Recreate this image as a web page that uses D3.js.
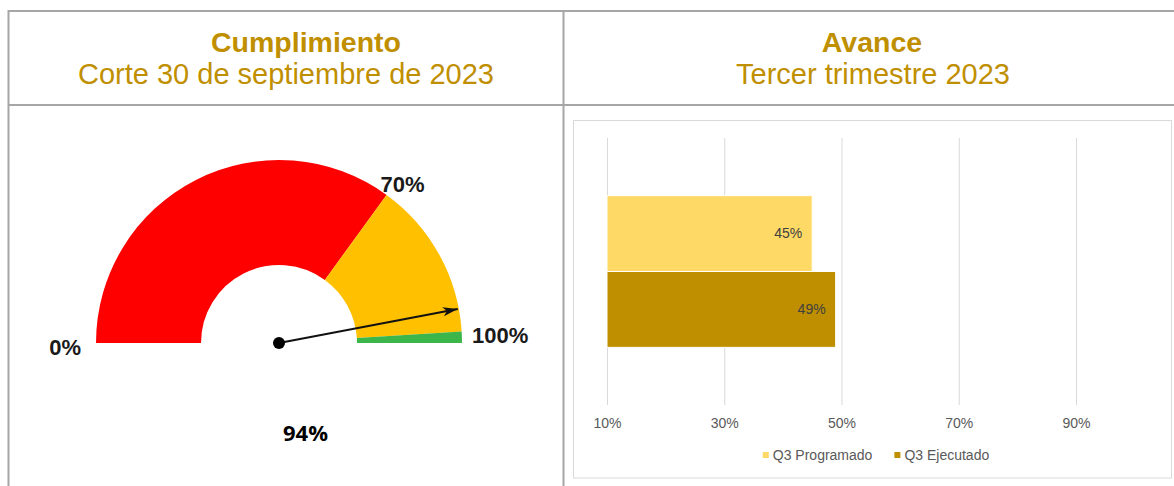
<!DOCTYPE html>
<html>
<head>
<meta charset="utf-8">
<script src="https://cdn.jsdelivr.net/npm/d3@7"></script>
<style>
body { margin: 0; background: #fff; }
text { font-family: "Liberation Sans", Arial, sans-serif; }
</style>
</head>
<body>
<svg id="chart" width="1174" height="486"></svg>
<script>
// encabezados de la tabla
var titulos = ["Cumplimiento", "Avance"];
var subtitulos = ["Corte 30 de septiembre de 2023", "Tercer trimestre 2023"];

// velocimetro: tramos en % (rojo, amarillo, verde)
var tramos = [70, 28, 2];
var tramoColores = ["#ff0000", "#ffc000", "#3cb54a"];
var cumplimiento = 94;

// barras
var series = ["Q3 Programado", "Q3 Ejecutado"];
var valores = [0.45, 0.49];
var serieColores = ["#ffd966", "#bf8f00"];
var ticksX = [0.1, 0.3, 0.5, 0.7, 0.9];

var svg = d3.select("#chart");
var dorado = "#bf8f00";

// tabla (lineas grises)
var lineas = [
    [8, 11, 1190, 11],
    [8, 105, 1190, 105],
    [8.5, 10, 8.5, 490],
    [563.5, 10, 563.5, 490]
];
svg.selectAll(".borde").data(lineas).enter().append("line")
    .attr("class", "borde")
    .attr("x1", function (d) { return d[0]; })
    .attr("y1", function (d) { return d[1]; })
    .attr("x2", function (d) { return d[2]; })
    .attr("y2", function (d) { return d[3]; })
    .attr("stroke", "#a6a6a6")
    .attr("stroke-width", 2);

// textos de los encabezados
var centrosTitulo = [306, 872];
var centrosSub = [286, 873];
svg.selectAll(".titulo").data(titulos).enter().append("text")
    .attr("class", "titulo")
    .attr("x", function (d, i) { return centrosTitulo[i]; })
    .attr("y", 52)
    .attr("text-anchor", "middle")
    .attr("font-size", "28.5px")
    .attr("font-weight", "bold")
    .attr("fill", dorado)
    .text(function (d) { return d; });

svg.selectAll(".subtitulo").data(subtitulos).enter().append("text")
    .attr("class", "subtitulo")
    .attr("x", function (d, i) { return centrosSub[i]; })
    .attr("y", 84)
    .attr("text-anchor", "middle")
    .attr("font-size", "29px")
    .attr("fill", dorado)
    .text(function (d) { return d; });

// ---------- velocimetro ----------
var cx = 279, cy = 343, rInt = 78, rExt = 183;
var gauge = svg.append("g").attr("transform", "translate(" + cx + "," + cy + ")");

var pie = d3.pie().sort(null).startAngle(-Math.PI / 2).endAngle(Math.PI / 2);
var arco = d3.arc().innerRadius(rInt).outerRadius(rExt);

gauge.selectAll(".tramo").data(pie(tramos)).enter().append("path")
    .attr("class", "tramo")
    .attr("d", arco)
    .attr("fill", function (d, i) { return tramoColores[i]; });

var angulo = d3.scaleLinear().domain([0, 100]).range([-Math.PI / 2, Math.PI / 2]);

// etiquetas 0%, 70%, 100%
var a70 = angulo(70);
var etiquetas = [
    { t: "0%", x: -rExt - 15, y: 12, anchor: "end" },
    { t: "70%", x: rExt * Math.sin(a70) - 6, y: -rExt * Math.cos(a70) - 3, anchor: "start" },
    { t: "100%", x: rExt + 10, y: 0, anchor: "start" }
];
gauge.selectAll(".marca").data(etiquetas).enter().append("text")
    .attr("class", "marca")
    .attr("x", function (d) { return d.x; })
    .attr("y", function (d) { return d.y; })
    .attr("text-anchor", function (d) { return d.anchor; })
    .attr("font-size", "22px")
    .attr("font-weight", "bold")
    .attr("fill", "#1a1a1a")
    .text(function (d) { return d.t; });

// aguja
svg.append("defs").append("marker")
    .attr("id", "flecha")
    .attr("markerUnits", "userSpaceOnUse")
    .attr("viewBox", "0 -5 15 10")
    .attr("refX", 15).attr("refY", 0)
    .attr("markerWidth", 15).attr("markerHeight", 10)
    .attr("orient", "auto")
    .append("path")
    .attr("d", "M0,-4.5L15,0L0,4.5L4,0Z")
    .attr("fill", "#111");

var aN = angulo(cumplimiento);
gauge.append("line")
    .attr("x1", 0).attr("y1", 0)
    .attr("x2", (rExt - 1) * Math.sin(aN))
    .attr("y2", -(rExt - 1) * Math.cos(aN))
    .attr("stroke", "#111")
    .attr("stroke-width", 2)
    .attr("marker-end", "url(#flecha)");

gauge.append("circle").attr("r", 6).attr("fill", "#000");

svg.append("text")
    .attr("x", 305.5)
    .attr("y", 441)
    .attr("text-anchor", "middle")
    .style("font-family", "'Open Sans', sans-serif")
    .attr("font-size", "22px")
    .attr("font-weight", "bold")
    .attr("fill", "#000")
    .text(cumplimiento + "%");

// ---------- barras ----------
svg.append("rect")
    .attr("x", 573.5).attr("y", 120.5)
    .attr("width", 598).attr("height", 357.5)
    .attr("fill", "#fff")
    .attr("stroke", "#d9d9d9");

var plot = { left: 607, top: 138, bottom: 405 };
var x = d3.scaleLinear().domain([0.1, 1.0]).range([plot.left, plot.left + (1076 - 607) / 0.8 * 0.9]);
var y = d3.scaleBand().domain(series).range([plot.top, plot.bottom]).paddingInner(0).paddingOuter(0.76);

var ejeX = svg.append("g")
    .attr("transform", "translate(0," + plot.bottom + ")")
    .call(d3.axisBottom(x).tickValues(ticksX).tickFormat(d3.format(".0%"))
        .tickSize(-(plot.bottom - plot.top)).tickPadding(13));
ejeX.select(".domain").remove();
ejeX.selectAll(".tick line").attr("stroke", "#d9d9d9");
ejeX.selectAll(".tick text")
    .attr("font-size", "14px")
    .attr("fill", "#595959");

svg.selectAll(".barra").data(valores).enter().append("rect")
    .attr("class", "barra")
    .attr("x", x(0.1))
    .attr("y", function (d, i) { return y(series[i]); })
    .attr("width", function (d) { return x(d) - x(0.1); })
    .attr("height", y.bandwidth())
    .attr("fill", function (d, i) { return serieColores[i]; })
    .attr("stroke", "#fff")
    .attr("stroke-width", 1);

svg.selectAll(".etiqueta").data(valores).enter().append("text")
    .attr("class", "etiqueta")
    .attr("x", function (d) { return x(d) - 10; })
    .attr("y", function (d, i) { return y(series[i]) + y.bandwidth() / 2; })
    .attr("dy", "0.35em")
    .attr("text-anchor", "end")
    .attr("font-size", "14px")
    .attr("fill", "#404040")
    .text(d3.format(".0%"));

// leyenda
var leyenda = svg.append("g");
var xs = 0;
series.forEach(function (s, i) {
    var item = leyenda.append("g").attr("transform", "translate(" + xs + ",0)");
    item.append("rect").attr("x", 0).attr("y", -3).attr("width", 6).attr("height", 6)
        .attr("fill", serieColores[i]);
    var t = item.append("text").attr("x", 10).attr("y", 0).attr("dy", "0.35em")
        .attr("font-size", "14px").attr("fill", "#595959").text(s);
    xs += 10 + t.node().getComputedTextLength() + 22;
});
var anchoLeyenda = xs - 22;
leyenda.attr("transform", "translate(" + (876 - anchoLeyenda / 2) + ",455)");
</script>
</body>
</html>
